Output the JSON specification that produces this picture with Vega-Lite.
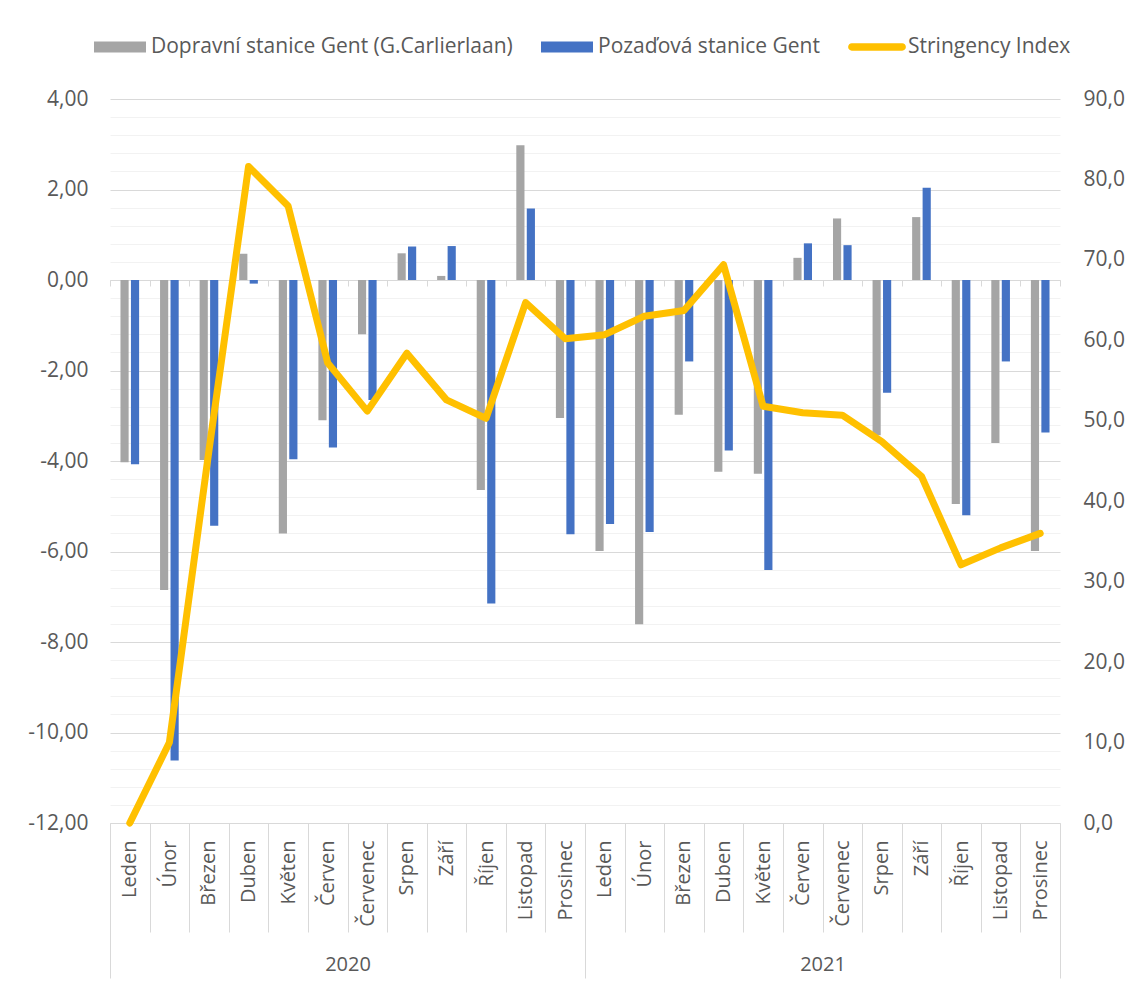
{
  "$schema": "https://vega.github.io/schema/vega-lite/v6.json",
  "width": 950,
  "height": 724,
  "autosize": "none",
  "padding": {"left": 110, "top": 99, "right": 79, "bottom": 164},
  "config": {
    "font": "Open Sans",
    "view": {"stroke": null},
    "locale": {"number": {"decimal": ",", "thousands": " ", "grouping": [3], "currency": ["", " Kč"], "minus": "-"}},
    "axis": {"labelFont": "Open Sans", "labelColor": "#595959", "title": null},
    "legend": {"labelFont": "Open Sans", "labelColor": "#595959"}
  },
  "datasets": {
    "bars": [
      {"key": "2020-01|Leden", "series": "Dopravní stanice Gent (G.Carlierlaan)", "value": -4.03},
      {"key": "2020-01|Leden", "series": "Pozaďová stanice Gent", "value": -4.07},
      {"key": "2020-02|Únor", "series": "Dopravní stanice Gent (G.Carlierlaan)", "value": -6.85},
      {"key": "2020-02|Únor", "series": "Pozaďová stanice Gent", "value": -10.62},
      {"key": "2020-03|Březen", "series": "Dopravní stanice Gent (G.Carlierlaan)", "value": -3.98},
      {"key": "2020-03|Březen", "series": "Pozaďová stanice Gent", "value": -5.43},
      {"key": "2020-04|Duben", "series": "Dopravní stanice Gent (G.Carlierlaan)", "value": 0.58},
      {"key": "2020-04|Duben", "series": "Pozaďová stanice Gent", "value": -0.08},
      {"key": "2020-05|Květen", "series": "Dopravní stanice Gent (G.Carlierlaan)", "value": -5.6},
      {"key": "2020-05|Květen", "series": "Pozaďová stanice Gent", "value": -3.96},
      {"key": "2020-06|Červen", "series": "Dopravní stanice Gent (G.Carlierlaan)", "value": -3.1},
      {"key": "2020-06|Červen", "series": "Pozaďová stanice Gent", "value": -3.7},
      {"key": "2020-07|Červenec", "series": "Dopravní stanice Gent (G.Carlierlaan)", "value": -1.2},
      {"key": "2020-07|Červenec", "series": "Pozaďová stanice Gent", "value": -2.65},
      {"key": "2020-08|Srpen", "series": "Dopravní stanice Gent (G.Carlierlaan)", "value": 0.59},
      {"key": "2020-08|Srpen", "series": "Pozaďová stanice Gent", "value": 0.74},
      {"key": "2020-09|Září", "series": "Dopravní stanice Gent (G.Carlierlaan)", "value": 0.09},
      {"key": "2020-09|Září", "series": "Pozaďová stanice Gent", "value": 0.75},
      {"key": "2020-10|Říjen", "series": "Dopravní stanice Gent (G.Carlierlaan)", "value": -4.64},
      {"key": "2020-10|Říjen", "series": "Pozaďová stanice Gent", "value": -7.15},
      {"key": "2020-11|Listopad", "series": "Dopravní stanice Gent (G.Carlierlaan)", "value": 2.98},
      {"key": "2020-11|Listopad", "series": "Pozaďová stanice Gent", "value": 1.58},
      {"key": "2020-12|Prosinec", "series": "Dopravní stanice Gent (G.Carlierlaan)", "value": -3.05},
      {"key": "2020-12|Prosinec", "series": "Pozaďová stanice Gent", "value": -5.62},
      {"key": "2021-01|Leden", "series": "Dopravní stanice Gent (G.Carlierlaan)", "value": -5.99},
      {"key": "2021-01|Leden", "series": "Pozaďová stanice Gent", "value": -5.39},
      {"key": "2021-02|Únor", "series": "Dopravní stanice Gent (G.Carlierlaan)", "value": -7.61},
      {"key": "2021-02|Únor", "series": "Pozaďová stanice Gent", "value": -5.57},
      {"key": "2021-03|Březen", "series": "Dopravní stanice Gent (G.Carlierlaan)", "value": -2.98},
      {"key": "2021-03|Březen", "series": "Pozaďová stanice Gent", "value": -1.8},
      {"key": "2021-04|Duben", "series": "Dopravní stanice Gent (G.Carlierlaan)", "value": -4.24},
      {"key": "2021-04|Duben", "series": "Pozaďová stanice Gent", "value": -3.77},
      {"key": "2021-05|Květen", "series": "Dopravní stanice Gent (G.Carlierlaan)", "value": -4.28},
      {"key": "2021-05|Květen", "series": "Pozaďová stanice Gent", "value": -6.41},
      {"key": "2021-06|Červen", "series": "Dopravní stanice Gent (G.Carlierlaan)", "value": 0.49},
      {"key": "2021-06|Červen", "series": "Pozaďová stanice Gent", "value": 0.81},
      {"key": "2021-07|Červenec", "series": "Dopravní stanice Gent (G.Carlierlaan)", "value": 1.36},
      {"key": "2021-07|Červenec", "series": "Pozaďová stanice Gent", "value": 0.77},
      {"key": "2021-08|Srpen", "series": "Dopravní stanice Gent (G.Carlierlaan)", "value": -3.43},
      {"key": "2021-08|Srpen", "series": "Pozaďová stanice Gent", "value": -2.49},
      {"key": "2021-09|Září", "series": "Dopravní stanice Gent (G.Carlierlaan)", "value": 1.39},
      {"key": "2021-09|Září", "series": "Pozaďová stanice Gent", "value": 2.04},
      {"key": "2021-10|Říjen", "series": "Dopravní stanice Gent (G.Carlierlaan)", "value": -4.95},
      {"key": "2021-10|Říjen", "series": "Pozaďová stanice Gent", "value": -5.2},
      {"key": "2021-11|Listopad", "series": "Dopravní stanice Gent (G.Carlierlaan)", "value": -3.6},
      {"key": "2021-11|Listopad", "series": "Pozaďová stanice Gent", "value": -1.8},
      {"key": "2021-12|Prosinec", "series": "Dopravní stanice Gent (G.Carlierlaan)", "value": -5.99},
      {"key": "2021-12|Prosinec", "series": "Pozaďová stanice Gent", "value": -3.37}
    ],
    "line": [
      {"key": "2020-01|Leden", "year": "2020", "si": 0.0},
      {"key": "2020-02|Únor", "year": "2020", "si": 10.0},
      {"key": "2020-03|Březen", "year": "2020", "si": 46.3},
      {"key": "2020-04|Duben", "year": "2020", "si": 81.6},
      {"key": "2020-05|Květen", "year": "2020", "si": 76.7},
      {"key": "2020-06|Červen", "year": "2020", "si": 57.2},
      {"key": "2020-07|Červenec", "year": "2020", "si": 51.2},
      {"key": "2020-08|Srpen", "year": "2020", "si": 58.4},
      {"key": "2020-09|Září", "year": "2020", "si": 52.6},
      {"key": "2020-10|Říjen", "year": "2020", "si": 50.3},
      {"key": "2020-11|Listopad", "year": "2020", "si": 64.7},
      {"key": "2020-12|Prosinec", "year": "2020", "si": 60.2},
      {"key": "2021-01|Leden", "year": "2021", "si": 60.7},
      {"key": "2021-02|Únor", "year": "2021", "si": 63.0},
      {"key": "2021-03|Březen", "year": "2021", "si": 63.7},
      {"key": "2021-04|Duben", "year": "2021", "si": 69.4},
      {"key": "2021-05|Květen", "year": "2021", "si": 51.8},
      {"key": "2021-06|Červen", "year": "2021", "si": 51.0},
      {"key": "2021-07|Červenec", "year": "2021", "si": 50.7},
      {"key": "2021-08|Srpen", "year": "2021", "si": 47.4},
      {"key": "2021-09|Září", "year": "2021", "si": 43.1},
      {"key": "2021-10|Říjen", "year": "2021", "si": 32.1},
      {"key": "2021-11|Listopad", "year": "2021", "si": 34.2},
      {"key": "2021-12|Prosinec", "year": "2021", "si": 36.0}
    ]
  },
  "layer": [
    {
      "layer": [
        {
          "data": {"name": "bars"},
          "mark": {"type": "bar"},
          "encoding": {
            "x": {
              "field": "key", "type": "ordinal",
              "scale": {"type": "band", "paddingInner": 0, "paddingOuter": 0},
              "axis": {
                "orient": "bottom", "domain": false, "grid": false,
                "tickBand": "extent", "tickSize": 109, "tickColor": "#d9d9d9", "tickWidth": 1,
                "labelExpr": "split(datum.value, '|')[1]",
                "labelAngle": -90, "labelAlign": "right", "labelBaseline": "middle",
                "labelPadding": -92, "labelFontSize": 20
              }
            },
            "xOffset": {
              "field": "series", "type": "nominal",
              "scale": {"domain": ["Dopravní stanice Gent (G.Carlierlaan)", "Pozaďová stanice Gent"], "paddingInner": 0.22, "paddingOuter": 1.05}
            },
            "y": {
              "field": "value", "type": "quantitative",
              "scale": {"domain": [-12, 4], "nice": false, "zero": false},
              "axis": {
                "orient": "left", "domain": false, "ticks": false,
                "values": [-12, -11.6, -11.2, -10.8, -10.4, -10, -9.6, -9.2, -8.8, -8.4, -8, -7.6, -7.2, -6.8, -6.4, -6, -5.6, -5.2, -4.8, -4.4, -4, -3.6, -3.2, -2.8, -2.4, -2, -1.6, -1.2, -0.8, -0.4, 0, 0.4, 0.8, 1.2, 1.6, 2, 2.4, 2.8, 3.2, 3.6, 4],
                "format": ".2f",
                "labelExpr": "abs(datum.value % 2) < 0.01 ? datum.label : ''",
                "grid": true,
                "gridColor": {"condition": {"test": "abs(datum.value % 2) < 0.01", "value": "#d9d9d9"}, "value": "#f2f2f2"},
                "gridWidth": 1,
                "labelPadding": 22, "labelFontSize": 21
              }
            },
            "color": {
              "field": "series", "type": "nominal",
              "scale": {"domain": ["Dopravní stanice Gent (G.Carlierlaan)", "Pozaďová stanice Gent", "Stringency Index"], "range": ["#a5a5a5", "#4472c4", "#ffc000"]},
              "legend": {
                "orient": "none", "legendX": -16, "legendY": -78, "direction": "horizontal",
                "title": null, "labelFontSize": 21, "labelLimit": 600, "labelOffset": 5,
                "columnPadding": 28, "symbolSize": 2704, "symbolType": "M-1,-0.21H1V0.21H-1Z",
                "symbolStrokeWidth": 0,
                "encode": {
                  "symbols": {
                    "update": {
                      "shape": {"signal": "datum.label === 'Stringency Index' ? 'M-0.97,-0.14H0.97A0.14,0.14 0 0 1 0.97,0.14H-0.97A0.14,0.14 0 0 1 -0.97,-0.14Z' : 'M-1,-0.21H1V0.21H-1Z'"},
                      "fill": {"signal": "scale('color', datum.value)"},
                      "stroke": {"value": "transparent"},
                      "strokeWidth": {"value": 0},
                      "opacity": {"value": 1}
                    }
                  }
                }
              }
            }
          }
        },
        {
          "data": {"name": "line"},
          "mark": {"type": "line", "strokeWidth": 7, "strokeJoin": "round", "strokeCap": "round"},
          "encoding": {
            "x": {
              "field": "key", "type": "ordinal",
              "axis": {
                "orient": "bottom", "offset": -543, "domain": true, "domainColor": "#d9d9d9", "domainWidth": 1,
                "grid": false, "labels": false,
                "tickBand": "extent", "tickSize": 6, "tickColor": "#d9d9d9", "tickWidth": 1
              }
            },
            "y": {
              "field": "si", "type": "quantitative",
              "scale": {"domain": [0, 90], "nice": false},
              "axis": {
                "orient": "right", "domain": false, "ticks": false, "grid": false,
                "values": [0, 10, 20, 30, 40, 50, 60, 70, 80, 90],
                "format": ".1f", "labelPadding": 23, "labelFontSize": 21
              }
            },
            "color": {"datum": "Stringency Index", "legend": null}
          }
        }
      ],
      "resolve": {"scale": {"y": "independent"}, "axis": {"x": "independent"}}
    },
    {
      "data": {"name": "line"},
      "mark": {"type": "rule", "opacity": 0},
      "encoding": {
        "x": {
          "field": "year", "type": "ordinal",
          "scale": {"type": "band", "paddingInner": 0, "paddingOuter": 0},
          "axis": {
            "orient": "bottom", "domain": false, "grid": false,
            "tickBand": "extent", "tickSize": 155, "tickColor": "#d9d9d9", "tickWidth": 1,
            "labelAngle": 0, "labelPadding": -24, "labelFontSize": 20
          }
        }
      }
    }
  ],
  "resolve": {"scale": {"x": "independent"}}
}
